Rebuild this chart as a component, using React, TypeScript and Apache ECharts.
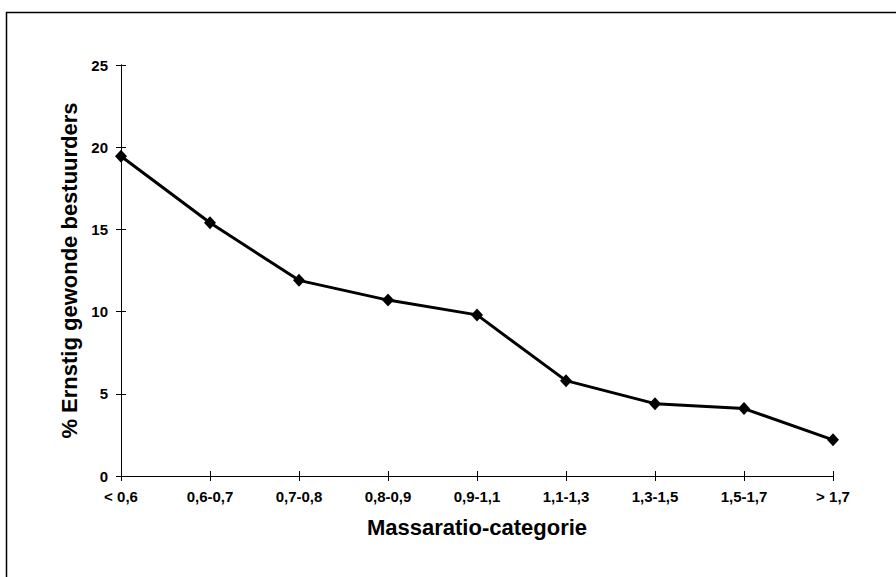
import React, { useEffect, useRef } from "react";
import * as echarts from "echarts";

const categories = ["< 0,6", "0,6-0,7", "0,7-0,8", "0,8-0,9", "0,9-1,1", "1,1-1,3", "1,3-1,5", "1,5-1,7", "> 1,7"];
const values = [19.45, 15.4, 11.9, 10.7, 9.8, 5.8, 4.4, 4.1, 2.2];
const xTitle = "Massaratio-categorie";
const yTitle = "% Ernstig gewonde bestuurders";

const FONT = "'Liberation Sans', Arial, sans-serif";

export default function App() {
  const ref = useRef<HTMLDivElement>(null);
  useEffect(() => {
    if (!ref.current) return;
    const chart = echarts.init(ref.current, undefined, { renderer: "svg" });
    const baseX = {
      type: "category" as const,
      data: categories,
      boundaryGap: false,
      axisLine: { show: true, lineStyle: { color: "#000", width: 1 } },
      splitLine: { show: false },
    };
    const baseY = {
      type: "value" as const,
      min: 0,
      max: 25,
      interval: 5,
      axisLine: { show: true, lineStyle: { color: "#000", width: 1 } },
      splitLine: { show: false },
    };
    chart.setOption({
      animation: false,
      backgroundColor: "#fff",
      grid: { left: 121, top: 65, right: 63, bottom: 101, containLabel: false },
      graphic: [
        {
          type: "rect",
          shape: { x: 6.5, y: 12.5, width: 1200, height: 1200 },
          style: { fill: "none", stroke: "#000", lineWidth: 1.5 },
          silent: true,
        },
      ],
      xAxis: [
        {
          ...baseX,
          axisTick: { show: true, inside: false, length: 5, lineStyle: { color: "#000" } },
          axisLabel: {
            color: "#000",
            fontFamily: FONT,
            fontWeight: "bold",
            fontSize: 15,
            margin: 13,
          },
          name: xTitle,
          nameLocation: "middle",
          nameGap: 40,
          nameTextStyle: { color: "#000", fontFamily: FONT, fontWeight: "bold", fontSize: 22 },
        },
        {
          ...baseX,
          position: "bottom",
          axisTick: { show: true, inside: true, length: 5, lineStyle: { color: "#000" } },
          axisLabel: { show: false },
        },
      ],
      yAxis: [
        {
          ...baseY,
          axisTick: { show: true, inside: false, length: 5, lineStyle: { color: "#000" } },
          axisLabel: {
            color: "#000",
            fontFamily: FONT,
            fontWeight: "bold",
            fontSize: 15,
            margin: 13,
          },
          name: yTitle,
          nameLocation: "middle",
          nameGap: 29,
          nameTextStyle: { color: "#000", fontFamily: FONT, fontWeight: "bold", fontSize: 22 },
        },
        {
          ...baseY,
          position: "left",
          axisTick: { show: true, inside: true, length: 5, lineStyle: { color: "#000" } },
          axisLabel: { show: false },
        },
      ],
      series: [
        {
          type: "line",
          data: values,
          xAxisIndex: 0,
          yAxisIndex: 0,
          symbol: "diamond",
          symbolSize: [12, 13],
          itemStyle: { color: "#000" },
          lineStyle: { color: "#000", width: 3 },
        },
      ],
    });
    return () => chart.dispose();
  }, []);
  return (
    <div
      ref={ref}
      style={{ position: "absolute", left: 0, top: 0, width: 896, height: 577 }}
    />
  );
}
